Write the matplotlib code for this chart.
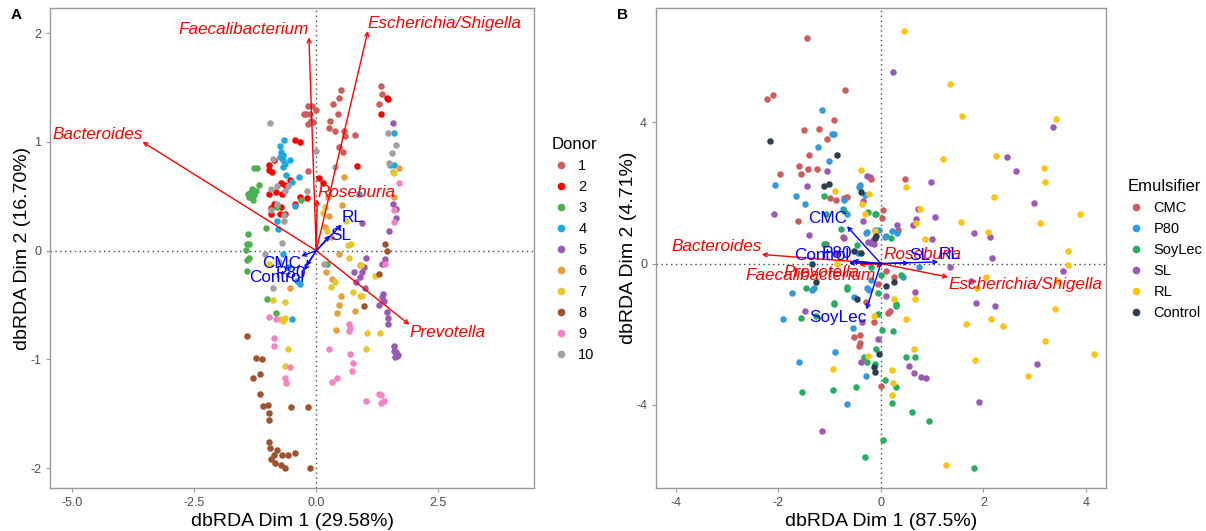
import matplotlib
matplotlib.use("Agg")
import matplotlib.pyplot as plt
from matplotlib.lines import Line2D

plt.rcParams["font.family"] = ["Liberation Sans", "DejaVu Sans"]
plt.rcParams["axes.unicode_minus"] = False

# ---------------- Panel A: samples coloured by donor ----------------
donor_labels = ["1", "2", "3", "4", "5", "6", "7", "8", "9", "10"]
donor_colours = ["#CD5C5C", "#FF0000", "#4CAF50", "#1DA9E0", "#9B59B6",
                 "#E69F3C", "#E8C72A", "#A0522D", "#F781C4", "#A0A0A0"]

donor1 = [(1.32, 1.51), (1.35, 1.44), (1.28, 1.35), (0.51, 1.48), (0.46, 1.40),
          (0.34, 1.35), (0.44, 1.26), (0.28, 1.19), (0.26, 1.13), (0.39, 1.10),
          (0.56, 1.10), (0.58, 1.05), (0.79, 1.06), (0.47, 0.95), (0.55, 0.91),
          (-0.17, 1.33), (-0.08, 1.33), (0.0, 1.29), (-0.21, 1.26), (-0.13, 1.26),
          (-0.25, 1.26), (-0.11, 1.19), (-0.17, 1.16), (-0.06, 1.18), (-0.17, 0.73)]
donor2 = [(1.44, 1.40), (1.48, 1.39), (1.32, 1.26), (0.83, 0.78), (0.14, 0.62),
          (0.06, 0.67), (-0.43, 1.02), (-0.33, 1.00), (-0.96, 0.79), (-0.86, 0.83),
          (-0.96, 0.74), (-0.90, 0.72), (-0.72, 0.62), (-0.65, 0.60), (-0.53, 0.65),
          (-0.96, 0.52), (-0.82, 0.54), (-0.70, 0.52), (-0.86, 0.43), (-0.92, 0.39),
          (-0.72, 0.40), (-0.75, 0.34), (-0.65, 0.34), (-0.43, 0.43), (-0.33, 0.49),
          (-0.19, 0.48), (-0.92, 0.34)]
donor3 = [(-1.28, 0.76), (-1.21, 0.76), (-1.18, 0.60), (-1.31, 0.57), (-1.35, 0.53),
          (-1.28, 0.51), (-1.37, 0.49), (-1.24, 0.55), (-1.39, 0.52), (-1.29, 0.47),
          (-0.31, 0.47), (-0.80, 0.40), (-1.02, 0.21), (-1.39, 0.15), (-1.41, 0.06),
          (-1.37, 0.06), (-1.43, 0.01), (-1.37, -0.07), (-1.41, -0.09), (-1.42, -0.19),
          (0.22, -0.12), (-1.00, -0.44), (-0.82, -0.57)]
donor4 = [(-0.66, 1.02), (-0.75, 0.96), (-0.72, 0.91), (-0.69, 0.88), (-0.74, 0.86),
          (-0.69, 0.83), (-0.65, 0.80), (-0.69, 0.77), (-0.54, 0.83), (-0.61, 0.70),
          (-0.35, 0.68), (-0.50, 0.63), (-0.80, 0.27), (-0.79, 0.20), (-0.43, 0.41),
          (-0.69, -0.03), (-0.33, -0.31), (-0.49, -0.63), (1.60, 1.08), (1.52, 0.79),
          (1.60, 0.79), (0.87, 0.52), (-0.58, -0.15), (-0.40, -0.28)]
donor5 = [(1.58, 1.17), (1.57, 0.43), (1.64, 0.38), (1.64, 0.30), (1.50, 0.18),
          (0.93, 0.25), (1.40, -0.08), (1.35, -0.12), (1.01, -0.07), (0.97, -0.15),
          (0.93, -0.20), (0.89, -0.24), (0.81, -0.29), (0.99, -0.34), (1.36, -0.40),
          (1.35, -0.43), (1.38, -0.46), (1.28, -0.50), (1.46, -0.56), (1.48, -0.62),
          (1.48, -0.67), (1.60, -0.88), (1.64, -0.93), (1.68, -0.96), (1.62, -0.98),
          (1.65, -0.97), (1.60, -0.92), (0.77, -0.20)]
donor6 = [(1.70, 0.76), (1.57, 0.72), (1.60, 0.49), (0.57, 0.68), (0.52, 0.42),
          (0.24, 0.49), (0.26, 0.32), (0.18, 0.22), (0.31, 0.13), (0.46, -0.03),
          (0.89, -0.13), (0.20, -0.20), (0.32, -0.26), (0.50, -0.42), (0.46, -0.50),
          (0.43, -0.57), (0.79, -0.55), (0.40, -0.73), (-0.53, -0.34)]
donor7 = [(1.60, 0.71), (0.61, 0.27), (0.22, 0.18), (0.18, 0.40), (0.13, 0.35),
          (0.65, 0.05), (0.71, 0.06), (0.68, -0.07), (0.91, -0.13), (1.20, -0.23),
          (0.38, -0.29), (0.89, -0.42), (0.93, -0.42), (0.76, -0.38), (1.31, -0.76),
          (1.05, -0.76), (1.01, -0.90), (0.30, -0.33), (-0.96, -0.12), (-0.88, -0.45),
          (-0.65, -0.47), (-0.75, -0.63), (-0.64, -0.62), (-0.69, -0.65), (-0.57, -0.90),
          (-0.65, -1.06)]
donor8 = [(1.40, 0.06), (1.46, 0.00), (1.28, -0.21), (0.97, -0.51), (-1.41, -0.78),
          (-1.24, -0.99), (-1.12, -1.00), (-1.16, -1.13), (-1.29, -1.17), (-1.16, -1.32),
          (-1.09, -1.43), (-0.98, -1.42), (-0.96, -1.49), (-0.96, -1.56), (-0.51, -1.44),
          (-0.17, -1.44), (-0.96, -1.76), (-0.94, -1.81), (-0.80, -1.83), (-0.70, -1.88),
          (-0.57, -1.88), (-0.43, -1.86), (-0.92, -1.91), (-0.84, -1.95), (-0.72, -1.97),
          (-0.65, -2.00), (-0.13, -2.00), (-0.87, -1.88)]
donor9 = [(1.70, 0.62), (1.60, 0.37), (1.60, 0.26), (1.40, -0.12), (-0.96, -0.61),
          (-0.82, -0.63), (-0.86, -0.80), (-0.86, -0.88), (-0.53, -1.07), (-0.63, -1.17),
          (-0.61, -1.22), (0.67, -0.67), (0.69, -0.71), (0.67, -0.74), (0.26, -0.90),
          (0.69, -0.95), (0.76, -1.03), (0.73, -1.11), (0.43, -1.17), (0.32, -1.21),
          (1.01, -1.38), (1.28, -1.32), (1.32, -1.40), (1.38, -1.38), (1.33, -1.33)]
donor10 = [(-0.94, 1.17), (0.00, 0.92), (-0.88, 0.84), (1.48, 1.08), (1.56, 0.90),
           (1.64, 0.97), (1.50, 0.81), (-0.80, 0.59), (-0.92, 0.57), (-0.58, 0.59),
           (-0.65, 0.55), (-0.19, 0.55), (-0.92, 0.37), (-0.80, 0.43), (-0.66, 0.27),
           (-0.70, 0.07), (-1.04, -0.03), (-0.76, -0.10), (-0.88, -0.34), (0.16, -0.12),
           (0.39, 0.77), (-0.66, 0.33)]
donor_points = [donor1, donor2, donor3, donor4, donor5,
                donor6, donor7, donor8, donor9, donor10]

# taxa vectors (red) and emulsifier vectors (blue), panel A
a_taxa = ["Faecalibacterium", "Escherichia/Shigella", "Bacteroides", "Prevotella", "Roseburia"]
a_taxa_tip = [(-0.15, 1.96), (1.06, 2.02), (-3.56, 1.00), (1.91, -0.68), (0.02, 0.47)]
a_taxa_align = [("right", "bottom"), ("left", "bottom"), ("right", "bottom"),
                ("left", "top"), ("left", "bottom")]
a_emul = ["RL", "SL", "CMC", "P80", "Control"]
a_emul_tip = [(0.52, 0.24), (0.28, 0.14), (-0.31, -0.05), (-0.21, -0.14), (-0.25, -0.18)]
a_emul_align = [("left", "bottom"), ("left", "center"), ("right", "top"),
                ("right", "top"), ("right", "top")]

# ---------------- Panel B: samples coloured by emulsifier ----------------
emul_labels = ["CMC", "P80", "SoyLec", "SL", "RL", "Control"]
emul_colours = ["#CD5C5C", "#3498DB", "#27AE60", "#9B59B6", "#FFC20E", "#2C3E50"]

cmc = [(-1.43, 6.39), (-2.21, 4.66), (-2.11, 4.78), (-0.70, 4.90), (-0.91, 4.07),
       (-1.49, 3.78), (-1.21, 3.82), (-1.04, 3.53), (-1.40, 3.08), (-1.59, 2.76),
       (-1.41, 2.67), (-1.24, 2.67), (-1.55, 2.53), (-1.97, 2.53), (-0.19, 2.40),
       (0.48, 2.40), (-0.88, 1.80), (-0.72, 1.85), (-0.66, 1.89), (-1.62, 1.20),
       (0.04, 1.51), (0.02, 1.30), (-0.73, 0.74), (-1.07, 0.55), (0.10, -0.22),
       (0.14, -1.39), (-0.52, -2.07), (-0.43, -2.34), (0.01, -3.46), (-0.28, -1.09),
       (-0.99, 1.85), (-0.21, 2.44), (0.33, 0.94), (0.25, -0.37), (-0.05, -0.59),
       (0.17, -1.34), (-0.14, -1.64), (-0.86, 0.31), (-0.40, -2.02), (-0.41, -2.26)]
p80 = [(-1.14, 4.35), (-0.96, 3.67), (-0.91, 3.67), (-1.22, 3.30), (-1.00, 2.91),
       (-2.07, 2.23), (-1.66, 1.90), (-1.47, 1.68), (-0.42, 2.18), (-0.31, 1.94),
       (-0.73, 1.54), (-0.66, 1.39), (-0.29, 0.87), (-0.04, 0.96), (0.10, 0.79),
       (0.21, 0.91), (0.74, -0.10), (0.44, -0.38), (-1.74, -0.84), (-1.34, -0.74),
       (-1.90, -1.57), (-0.54, -1.83), (-0.90, -2.50), (-1.59, -2.79), (-0.28, -3.17),
       (-0.65, -3.96), (-0.40, 2.23), (-0.71, 1.80), (-0.27, 0.90), (-0.11, 0.96),
       (0.31, 0.87), (-0.27, -0.70), (-0.22, -0.75), (-0.53, -0.94), (-1.30, -0.70),
       (0.09, 0.76), (-0.45, 0.30), (-0.20, -0.45)]
soylec = [(-1.10, 1.92), (-0.72, 1.49), (-1.07, 1.39), (-0.11, 1.41), (0.19, 0.72),
          (-0.47, 0.53), (-1.11, 0.55), (-0.20, -0.10), (0.40, -0.32), (-1.45, -0.70),
          (-0.66, -0.72), (-0.05, -0.82), (-0.92, -1.13), (-1.26, -1.49), (-1.56, -1.54),
          (0.29, -1.20), (-0.05, -1.44), (0.02, -1.88), (0.23, -1.92), (0.50, -2.63),
          (0.67, -2.63), (-0.33, -2.64), (-0.26, -2.79), (-0.11, -2.84), (-0.09, -2.43),
          (0.08, -3.30), (0.29, -3.48), (-0.48, -3.48), (-0.94, -3.59), (-1.53, -3.63),
          (0.21, -3.94), (0.61, -4.21), (0.94, -4.45), (0.04, -4.98), (-0.31, -5.48),
          (1.82, -5.79), (-0.77, 0.99), (-0.25, 1.45), (-0.09, 1.40), (0.01, -0.32),
          (-0.65, -0.66), (-0.91, -1.11), (0.30, -1.14)]
sl = [(0.23, 5.43), (-1.04, 2.62), (-1.43, 2.21), (-0.26, 2.47), (-0.34, 1.78),
      (-0.34, 1.20), (-2.09, 1.39), (-1.40, 0.82), (-0.72, 0.72), (-0.20, 0.58),
      (-0.13, 0.55), (0.31, 1.09), (0.63, 1.08), (0.69, 1.25), (0.73, 1.54),
      (1.05, 1.33), (0.97, 2.31), (0.99, 0.69), (1.82, 0.87), (2.12, 0.74),
      (2.16, 0.17), (1.35, -0.10), (2.46, 3.01), (2.63, 2.63), (2.99, 1.72),
      (3.35, 3.88), (3.55, -0.22), (1.76, -0.48), (0.67, -0.80), (1.85, -1.11),
      (2.23, -1.20), (0.10, -0.91), (-1.47, -1.35), (-0.37, -1.66), (-0.05, -2.14),
      (-0.39, -2.79), (0.55, -2.91), (0.65, -3.10), (0.79, -3.22), (0.89, -3.25),
      (3.05, -2.84), (1.91, -3.91), (-1.15, -4.73), (-0.25, 0.62), (-0.15, 0.66)]
rl = [(0.46, 6.59), (1.35, 5.07), (1.59, 4.18), (3.42, 4.09), (1.22, 2.95),
      (2.25, 3.05), (3.18, 2.71), (3.21, 2.31), (2.21, 1.88), (3.88, 1.41),
      (1.57, 1.18), (3.11, 1.15), (2.08, 0.89), (0.76, 1.54), (0.69, 1.15),
      (0.87, 0.69), (0.49, 2.18), (-0.39, 2.66), (-0.22, 1.97), (-0.36, 1.68),
      (-0.31, 1.41), (-0.90, 2.05), (-0.11, 0.91), (3.64, 0.36), (3.64, -0.03),
      (2.05, -0.38), (1.87, -0.70), (3.46, -0.48), (3.39, -1.28), (0.26, -0.99),
      (0.67, -1.01), (0.49, -1.57), (-0.13, -1.47), (1.67, -1.71), (2.14, -1.57),
      (2.39, -1.76), (3.20, -2.18), (0.64, -2.43), (1.84, -2.74), (4.16, -2.55),
      (2.86, -3.17), (0.21, -3.00), (-0.94, -2.98), (0.23, -3.37), (0.21, -3.73),
      (1.28, -5.69), (-0.24, -2.62), (-0.85, 0.00)]
control = [(-2.15, 3.48), (-0.85, 3.08), (-1.10, 2.21), (-0.39, 2.04), (-0.11, 0.72),
           (-0.39, 0.29), (-1.35, 0.00), (0.10, -0.63), (0.26, -0.53), (-0.46, -1.01),
           (-1.26, -0.53), (-0.04, -2.55), (-0.13, -2.93), (-0.11, -3.08), (-0.09, 0.77),
           (-0.53, 0.36), (-1.00, 2.24)]
emul_points = [cmc, p80, soylec, sl, rl, control]

b_taxa = ["Bacteroides", "Faecalibacterium", "Prevotella", "Escherichia/Shigella", "Roseburia"]
b_taxa_tip = [(-2.32, 0.26), (-0.09, -0.12), (-0.42, -0.03), (1.31, -0.38), (0.06, 0.05)]
b_taxa_align = [("right", "bottom"), ("right", "top"), ("right", "top"),
                ("left", "top"), ("left", "bottom")]
b_emul = ["CMC", "SoyLec", "SL", "RL", "P80", "Control"]
b_emul_tip = [(-0.66, 1.06), (-0.28, -1.30), (0.55, 0.02), (1.12, 0.05), (-0.55, 0.08), (-0.62, 0.02)]
b_emul_align = [("right", "bottom"), ("right", "top"), ("left", "bottom"),
                ("left", "bottom"), ("right", "bottom"), ("right", "bottom")]


def draw_vectors(ax, names, tips, aligns, colour):
    for name, (tx, ty), (ha, va) in zip(names, tips, aligns):
        ax.annotate("", xy=(tx, ty), xytext=(0, 0),
                    arrowprops=dict(arrowstyle="->", color=colour, lw=1.0,
                                    shrinkA=0, shrinkB=0, mutation_scale=7),
                    zorder=4)
        style = "italic" if colour == "red" else "normal"
        ax.text(tx, ty, name, color=colour, ha=ha, va=va, fontsize=12.3,
                fontstyle=style, zorder=5)


def style_panel(ax, xlabel, ylabel):
    ax.axhline(0, color="#444444", lw=1.0, ls=(0, (1, 2.5)), zorder=1)
    ax.axvline(0, color="#444444", lw=1.0, ls=(0, (1, 2.5)), zorder=1)
    for sp in ax.spines.values():
        sp.set_color("#999999")
        sp.set_linewidth(1.0)
    ax.tick_params(colors="#999999", labelcolor="#4D4D4D", labelsize=9, length=3)
    ax.set_xlabel(xlabel, fontsize=14, labelpad=3)
    ax.set_ylabel(ylabel, fontsize=14, labelpad=-1)


def add_legend(ax, title, labels, colours, x, y):
    handles = [Line2D([], [], ls="", marker="o", markersize=4.5, color=c) for c in colours]
    leg = ax.legend(handles, labels, title=title, loc="upper left",
                    bbox_to_anchor=(x, y), frameon=False, fontsize=10.5,
                    title_fontsize=12, handletextpad=0.6, labelspacing=0.48,
                    handlelength=1.2, borderaxespad=0, borderpad=0)
    leg._legend_box.align = "left"


fig = plt.figure(figsize=(12.06, 5.31), dpi=100)
axA = fig.add_axes([0.0415, 0.081, 0.4013, 0.903])
axB = fig.add_axes([0.544, 0.081, 0.3731, 0.903])

for pts, c in zip(donor_points, donor_colours):
    axA.scatter([p[0] for p in pts], [p[1] for p in pts], s=22, color=c,
                linewidths=0, zorder=2)
draw_vectors(axA, a_taxa, a_taxa_tip, a_taxa_align, "red")
draw_vectors(axA, a_emul, a_emul_tip, a_emul_align, "blue")
axA.set_xlim(-5.455, 4.463)
axA.set_ylim(-2.181, 2.226)
axA.set_xticks([-5, -2.5, 0, 2.5])
axA.set_xticklabels(["-5.0", "-2.5", "0.0", "2.5"])
axA.set_yticks([-2, -1, 0, 1, 2])
style_panel(axA, "dbRDA Dim 1 (29.58%)", "dbRDA Dim 2 (16.70%)")
add_legend(axA, "Donor", donor_labels, donor_colours, 1.037, 0.732)

for pts, c in zip(emul_points, emul_colours):
    axB.scatter([p[0] for p in pts], [p[1] for p in pts], s=22, color=c,
                linewidths=0, zorder=2)
draw_vectors(axB, b_taxa, b_taxa_tip, b_taxa_align, "red")
draw_vectors(axB, b_emul, b_emul_tip, b_emul_align, "blue")
axB.set_xlim(-4.38, 4.39)
axB.set_ylim(-6.35, 7.22)
axB.set_xticks([-4, -2, 0, 2, 4])
axB.set_yticks([-4, 0, 4])
style_panel(axB, "dbRDA Dim 1 (87.5%)", "dbRDA Dim 2 (4.71%)")
add_legend(axB, "Emulsifier", emul_labels, emul_colours, 1.047, 0.645)

fig.text(0.009, 0.972, "A", fontsize=11, fontweight="bold", va="center")
fig.text(0.512, 0.972, "B", fontsize=11, fontweight="bold", va="center")

fig.savefig("out.png", dpi=100)
